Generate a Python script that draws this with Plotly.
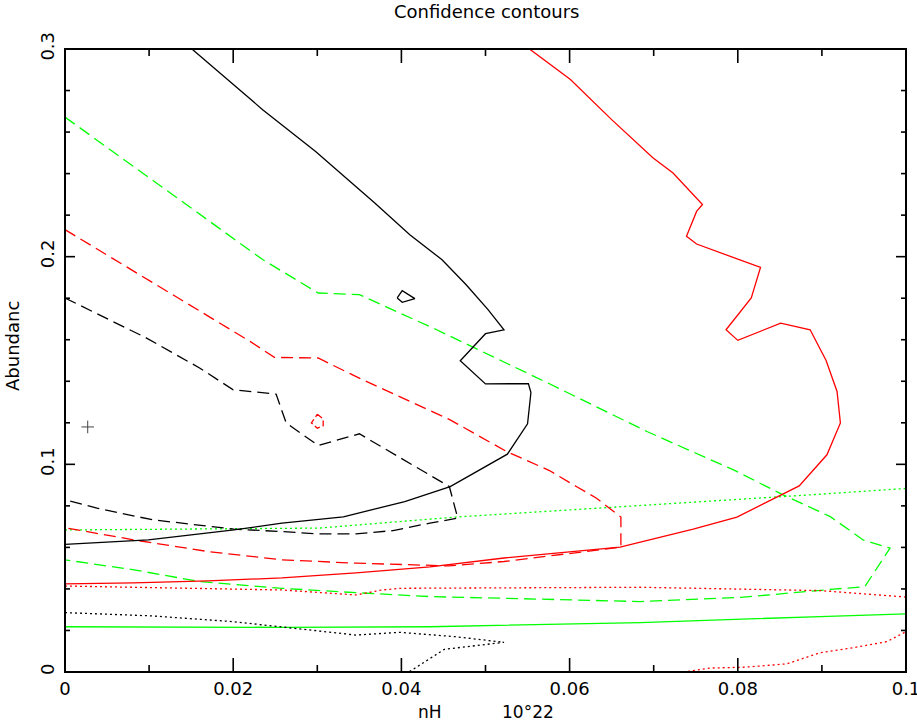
import plotly.graph_objects as go

# ---------------- data ----------------
x_major = [0, 0.02, 0.04, 0.06, 0.08, 0.1]
x_minor = [0.01, 0.03, 0.05, 0.07, 0.09]
y_major = [0, 0.1, 0.2, 0.3]
y_minor = [0.02, 0.04, 0.06, 0.08, 0.12, 0.14, 0.16, 0.18, 0.22, 0.24, 0.26, 0.28]

# black set
blk_solid_x = [0.0148, 0.0193, 0.0235, 0.0298, 0.0368, 0.0410, 0.0448, 0.0477, 0.0503, 0.0522,
               0.0500, 0.0470, 0.0500, 0.0551, 0.0554, 0.0550, 0.0526, 0.0458, 0.0404, 0.0331,
               0.0258, 0.0201, 0.0099, 0.0]
blk_solid_y = [0.301, 0.2853, 0.2708, 0.2506, 0.2260, 0.2106, 0.1986, 0.1865, 0.1745, 0.1648,
               0.1629, 0.1499, 0.1387, 0.1389, 0.1346, 0.1195, 0.1049, 0.0893, 0.0821, 0.0747,
               0.0717, 0.0684, 0.0636, 0.0615]
blk_island_x = [0.0395, 0.0401, 0.0416, 0.0401, 0.0395]
blk_island_y = [0.1801, 0.1836, 0.1798, 0.1780, 0.1801]
blk_dash_x = [0.0, 0.0097, 0.0160, 0.0200, 0.0251, 0.0263, 0.0301, 0.0350, 0.0457, 0.0467,
              0.0434, 0.0390, 0.0346, 0.0302, 0.0258, 0.0201, 0.0104, 0.0038, 0.0]
blk_dash_y = [0.1801, 0.1608, 0.1464, 0.1359, 0.1338, 0.1199, 0.1091, 0.1147, 0.0893, 0.0741,
              0.0717, 0.0681, 0.0665, 0.0665, 0.0676, 0.0688, 0.0733, 0.0789, 0.0829]
blk_dot_x = [0.0, 0.0104, 0.0201, 0.0258, 0.0346, 0.0398, 0.0464, 0.0522, 0.0451, 0.0407]
blk_dot_y = [0.0286, 0.0270, 0.0242, 0.0218, 0.0178, 0.0191, 0.0170, 0.0143, 0.0109, -0.0005]

# red set
red_solid_x = [0.0549, 0.0601, 0.0650, 0.0678, 0.0699, 0.0723, 0.0758, 0.0751, 0.0739, 0.0751,
               0.0800, 0.0827, 0.0816, 0.0786, 0.0800, 0.0851, 0.0886, 0.0905, 0.0918, 0.0922,
               0.0906, 0.0873, 0.0799, 0.0747, 0.0660, 0.0522, 0.0434, 0.0346, 0.0258, 0.0170,
               0.0081, 0.0]
red_solid_y = [0.301, 0.2853, 0.2660, 0.2556, 0.2476, 0.2403, 0.2251, 0.2218, 0.2098, 0.2061,
               0.1986, 0.1948, 0.1801, 0.1648, 0.1597, 0.1680, 0.1648, 0.1500, 0.1351, 0.1199,
               0.1046, 0.0896, 0.0746, 0.0688, 0.0601, 0.0549, 0.0506, 0.0477, 0.0453, 0.0439,
               0.0429, 0.0424]
red_island_x = [0.0300, 0.0307, 0.0307, 0.0300, 0.0293, 0.0300]
red_island_y = [0.1241, 0.1219, 0.1186, 0.1174, 0.1200, 0.1241]
red_dash_x = [0.0, 0.0220, 0.0249, 0.0301, 0.0354, 0.0458, 0.0525, 0.0576, 0.0608, 0.0632,
              0.0661, 0.0661, 0.0522, 0.0456, 0.0346, 0.0258, 0.0170, 0.0082, 0.0]
red_dash_y = [0.2130, 0.1592, 0.1515, 0.1512, 0.1407, 0.1214, 0.1062, 0.0970, 0.0893, 0.0837,
              0.0746, 0.0601, 0.0532, 0.0511, 0.0524, 0.0540, 0.0580, 0.0636, 0.0695]
red_dot_x = [0.0, 0.0170, 0.0258, 0.0346, 0.0377, 0.0398, 0.0522, 0.0684, 0.0898, 0.1]
red_dot_y = [0.0414, 0.0403, 0.0395, 0.0371, 0.0395, 0.0403, 0.0406, 0.0408, 0.0392, 0.0361]
red_dot2_x = [0.0729, 0.0767, 0.0808, 0.0858, 0.0898, 0.0937, 0.0977, 0.0995, 0.1]
red_dot2_y = [-0.0005, 0.0019, 0.0023, 0.0039, 0.0093, 0.0117, 0.0146, 0.0183, 0.0194]

# green set
grn_solid_x = [0.0, 0.0258, 0.0434, 0.0684, 0.0898, 0.1]
grn_solid_y = [0.0218, 0.0215, 0.0218, 0.0238, 0.0267, 0.0280]
grn_dash_x = [0.0, 0.0235, 0.0301, 0.0350, 0.0442, 0.0576, 0.0692, 0.0795, 0.0854, 0.0910,
              0.0949, 0.0981, 0.0951, 0.0914, 0.0803, 0.0684, 0.0522, 0.0434, 0.0346, 0.0258,
              0.0161, 0.0082, 0.0]
grn_dash_y = [0.2672, 0.1986, 0.1825, 0.1817, 0.1648, 0.1388, 0.1158, 0.0973, 0.0853, 0.0748,
              0.0636, 0.0596, 0.0411, 0.0399, 0.0359, 0.0339, 0.0355, 0.0363, 0.0382, 0.0403,
              0.0435, 0.0492, 0.0540]
grn_dot_x = [0.0, 0.0302, 0.0464, 0.0684, 0.0898, 0.1]
grn_dot_y = [0.0684, 0.0693, 0.0746, 0.0800, 0.0856, 0.0884]

best_fit_x = [0.0027]
best_fit_y = [0.118]

# ---------------- figure ----------------
BLACK, RED, GREEN = "#000000", "#ff0000", "#00ff00"
DASH = "12px,6px"
DOT = "2px,3px"
LW = 1.3
MAJ_LEN, MIN_LEN = 10, 5
TICK_W = 1.6
Y_LO, Y_HI = 0, 0.3

fig = go.Figure()


def add_line(x, y, color, dash="solid"):
    fig.add_trace(go.Scatter(x=x, y=y, mode="lines",
                             line=dict(color=color, width=LW, dash=dash),
                             hoverinfo="skip", showlegend=False))


add_line(grn_solid_x, grn_solid_y, GREEN)
add_line(grn_dash_x, grn_dash_y, GREEN, DASH)
add_line(grn_dot_x, grn_dot_y, GREEN, DOT)
add_line(red_solid_x, red_solid_y, RED)
add_line(red_island_x, red_island_y, RED, "6px,3px")
add_line(red_dash_x, red_dash_y, RED, DASH)
add_line(red_dot_x, red_dot_y, RED, DOT)
add_line(red_dot2_x, red_dot2_y, RED, DOT)
add_line(blk_solid_x, blk_solid_y, BLACK)
add_line(blk_island_x, blk_island_y, BLACK)
add_line(blk_dash_x, blk_dash_y, BLACK, DASH)
add_line(blk_dot_x, blk_dot_y, BLACK, DOT)

fig.add_trace(go.Scatter(x=best_fit_x, y=best_fit_y, mode="markers",
                         marker=dict(symbol="cross-thin", size=9,
                                     line=dict(color="#444444", width=1)),
                         hoverinfo="skip", showlegend=False))

# x-axis inside ticks (bottom and top): vertical line markers centred on the
# frame edge; the half outside the plot area is clipped away by the axes
for vals, ln in ((x_major, MAJ_LEN), (x_minor, MIN_LEN)):
    fig.add_trace(go.Scatter(
        x=vals + vals, y=[Y_LO] * len(vals) + [Y_HI] * len(vals), mode="markers",
        marker=dict(symbol="line-ns", size=2 * ln, color="black",
                    line=dict(color="black", width=TICK_W)),
        cliponaxis=True, hoverinfo="skip", showlegend=False))

FONT = "DejaVu Sans"

# y-axis inside ticks on both sides
tick_shapes = []
for vals, ln in ((y_major, MAJ_LEN), (y_minor, MIN_LEN)):
    for v in vals:
        for anchor, sgn in ((0, 1), (1, -1)):
            tick_shapes.append(dict(type="line", xref="paper", yref="y",
                                    xsizemode="pixel", xanchor=anchor,
                                    x0=0, x1=sgn * ln, y0=v, y1=v,
                                    line=dict(color="black", width=TICK_W), layer="above"))

frame = dict(type="rect", xref="paper", yref="paper", x0=0, y0=0, x1=1, y1=1,
             line=dict(color="black", width=2), layer="above")

fig.update_layout(
    width=917, height=724, autosize=False,
    margin=dict(l=65, r=11, t=49, b=52),
    paper_bgcolor="white", plot_bgcolor="white",
    xaxis=dict(range=[0, 0.1], tickmode="array", tickvals=x_major,
               ticktext=[("%g" % v) for v in x_major],
               ticks="", showline=False, showgrid=False, zeroline=False,
               automargin=False, tickangle=0, ticklabeloverflow="allow",
               ticklabelstandoff=4,
               tickfont=dict(family=FONT, size=18, color="black")),
    yaxis=dict(range=[Y_LO, Y_HI], tickmode="array", tickvals=y_major,
               ticktext=[("%g" % v) for v in y_major],
               ticks="", showline=False, showgrid=False, zeroline=False,
               automargin=False, ticklabeloverflow="allow", ticklabelstandoff=6,
               tickangle=-90, tickfont=dict(family=FONT, size=18, color="black")),
    shapes=[frame] + tick_shapes,
    annotations=[
        dict(text="Confidence contours", x=0.5015, y=1.0594, xref="paper", yref="paper",
             showarrow=False, xanchor="center", yanchor="middle",
             font=dict(family=FONT, size=18, color="black")),
        dict(text="nH", x=0.4337, y=-0.0650, xref="paper", yref="paper",
             showarrow=False, xanchor="center", yanchor="middle",
             font=dict(family=FONT, size=17, color="black")),
        dict(text="10°22", x=0.5502, y=-0.0650, xref="paper", yref="paper",
             showarrow=False, xanchor="center", yanchor="middle",
             font=dict(family=FONT, size=17, color="black")),
        dict(text="Abundanc", x=-0.0618, y=0.5233, xref="paper", yref="paper",
             showarrow=False, xanchor="center", yanchor="middle", textangle=-90,
             font=dict(family=FONT, size=18, color="black")),
    ],
)

fig.write_html("out.html", config={"displayModeBar": False},
               post_script="document.body.style.margin='0px';")
